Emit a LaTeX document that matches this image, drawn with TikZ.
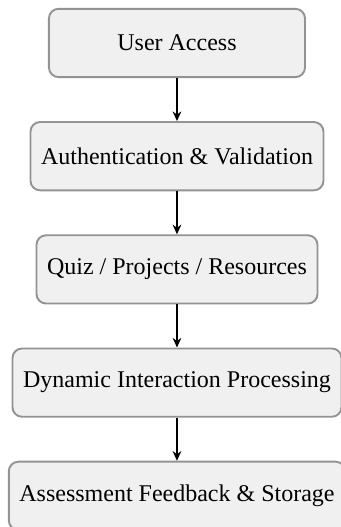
\documentclass[tikz,border=0pt]{standalone}
\usepackage{fontspec}
\setmainfont{Liberation Serif}
\usetikzlibrary{positioning, arrows.meta}

\begin{document}
\begin{tikzpicture}[
    line width = 0.8pt,
    node distance = 0.63cm,
    stage/.style = {draw = gray!85, fill = gray!12, rounded corners,
      minimum height = 1cm, minimum width = 3.75cm, inner xsep = 4.4pt},
    flow/.style = {-{Stealth[length = 4pt, width = 3.6pt]}}
  ]
  \useasboundingbox (-73.75pt, 17.9pt) rectangle (68.3pt, -201.7pt);
  % processing stages, top to bottom
  \node[stage] (Access) at (0,0) {User Access};
  \node[stage, below = of Access] (Auth) {Authentication \& Validation};
  \node[stage, below = of Auth] (Content) {Quiz / Projects / Resources};
  \node[stage, below = of Content] (Interact) {Dynamic Interaction Processing};
  \node[stage, below = of Interact] (Feedback) {Assessment Feedback \& Storage};
  % connectors
  \draw[flow] (Access) -- (Auth);
  \draw[flow] (Auth) -- (Content);
  \draw[flow] (Content) -- (Interact);
  \draw[flow] (Interact) -- (Feedback);
\end{tikzpicture}
\end{document}
